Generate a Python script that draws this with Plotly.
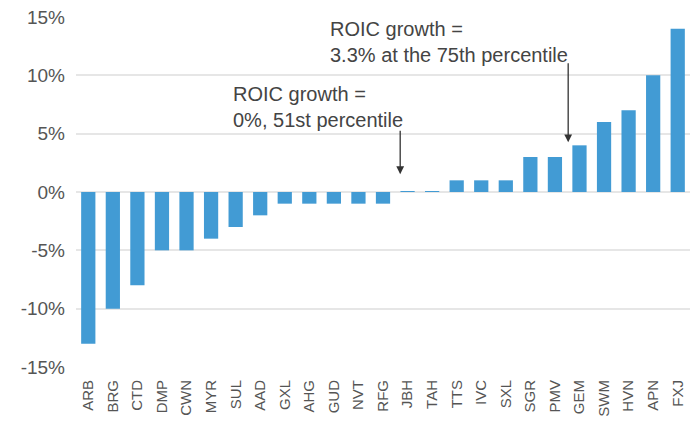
import plotly.graph_objects as go

categories = ["ARB", "BRG", "CTD", "DMP", "CWN", "MYR", "SUL", "AAD", "GXL", "AHG",
              "GUD", "NVT", "RFG", "JBH", "TAH", "TTS", "IVC", "SXL", "SGR", "PMV",
              "GEM", "SWM", "HVN", "APN", "FXJ"]
roic_growth = [-13, -10, -8, -5, -5, -4, -3, -2, -1, -1,
               -1, -1, -1, 0.05, 0.05, 1, 1, 1, 3, 3,
               4, 6, 7, 10, 14]
y_ticks = [-15, -10, -5, 0, 5, 10, 15]
y_tick_labels = ["-15%", "-10%", "-5%", "0%", "5%", "10%", "15%"]

FONT = "Liberation Sans"
GREY = "#555555"

fig = go.Figure(go.Bar(x=categories, y=roic_growth, marker_color="#429bd4",
                       marker_line_width=0, width=0.58))

fig.update_layout(
    width=694, height=421,
    margin=dict(l=76, r=4, t=17, b=52),
    plot_bgcolor="white", paper_bgcolor="white",
    showlegend=False,
    font=dict(family=FONT, color=GREY),
    xaxis=dict(tickangle=-90, tickfont=dict(size=15, color=GREY), showgrid=False,
               showline=False, ticks="", range=[-0.5, 24.5], ticklabelstandoff=9),
    yaxis=dict(range=[-15, 15], tickvals=y_ticks, ticktext=y_tick_labels,
               tickfont=dict(size=19, color=GREY), showgrid=True, gridcolor="#e6e6e6",
               gridwidth=1.5, zeroline=True, zerolinecolor="#e6e6e6", zerolinewidth=1.5,
               ticks="", ticklabelstandoff=10),
    annotations=[
        dict(x=12.7, y=1.53, ax=12.7, ay=5.37, xref="x", yref="y", axref="x", ayref="y",
             showarrow=True, arrowhead=2, arrowsize=1.2, arrowwidth=1.3, arrowcolor="#333333",
             text=""),
        dict(x=19.54, y=4.26, ax=19.54, ay=11.17, xref="x", yref="y", axref="x", ayref="y",
             showarrow=True, arrowhead=2, arrowsize=1.2, arrowwidth=1.3, arrowcolor="#333333",
             text=""),
        dict(x=0.253, y=0.818, xref="paper", yref="paper", xanchor="left", yanchor="top",
             align="left", showarrow=False, text="ROIC growth =<br>0%, 51st percentile",
             font=dict(size=20, color="#444444", family=FONT)),
        dict(x=0.411, y=1.003, xref="paper", yref="paper", xanchor="left", yanchor="top",
             align="left", showarrow=False, text="ROIC growth =<br>3.3% at the 75th percentile",
             font=dict(size=20, color="#444444", family=FONT)),
    ],
)

fig.write_html("out.html", config={"displayModeBar": False},
               post_script="document.body.style.margin='0px';")
